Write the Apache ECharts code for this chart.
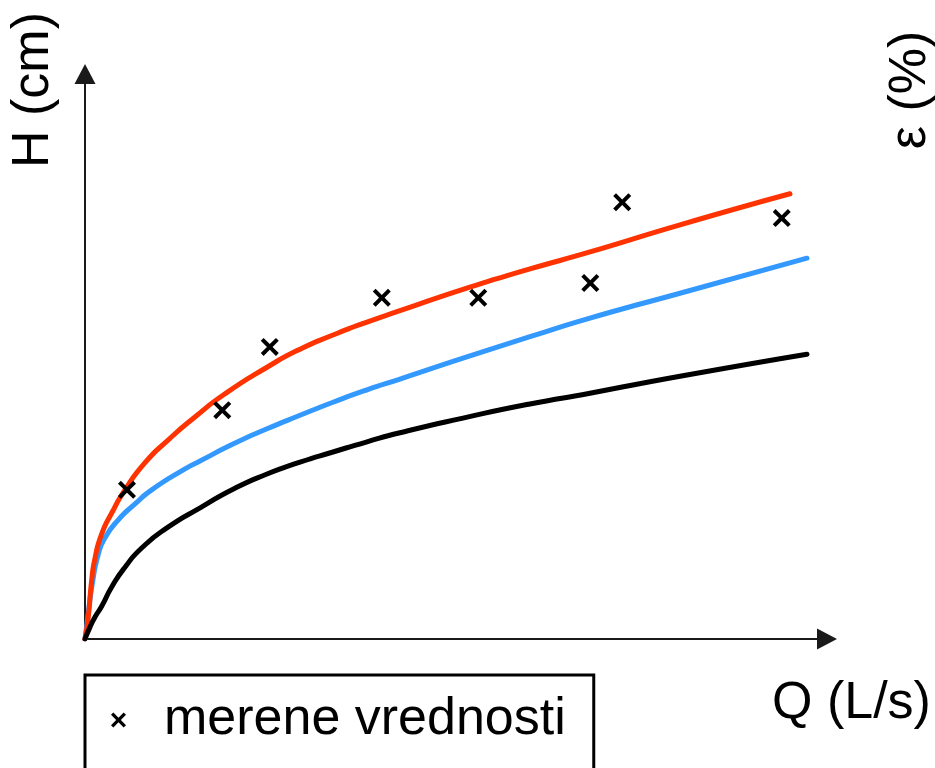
<!DOCTYPE html>
<html>
<head>
<meta charset="utf-8">
<script src="https://cdn.jsdelivr.net/npm/echarts@6/dist/echarts.min.js"></script>
<style>
html,body{margin:0;padding:0;background:#fff;}
#chart{width:935px;height:768px;}
</style>
</head>
<body>
<div id="chart"></div>
<script>
// Q (L/s) values and H (cm) values (arbitrary 0-100 scale, no ticks shown)
const redQ   = [0, 0.44, 0.90, 1.35, 2.25, 3.60, 5.39, 8.09, 11.19, 14.82, 18.87, 24.53, 28.98, 33.42, 38.01, 42.45, 50.94, 59.97, 68.06, 80.19, 95.01];
const redH   = [0, 3.9, 10.4, 14.3, 18.6, 22.3, 26.4, 31.2, 35.2, 39.3, 43.4, 48.1, 51.3, 53.8, 56.1, 58.1, 61.9, 65.5, 68.5, 73.3, 78.8];
const blueQ  = [0, 0.40, 0.94, 1.79, 2.70, 4.49, 6.74, 8.99, 13.48, 15.50, 19.95, 24.53, 28.98, 33.42, 38.01, 42.45, 50.94, 59.97, 68.06, 80.19, 97.30];
const blueH  = [0, 4.1, 9.4, 15.0, 17.9, 21.1, 23.9, 26.4, 30.1, 31.5, 34.5, 37.2, 39.6, 41.9, 44.1, 46.0, 49.7, 53.5, 56.8, 61.2, 67.4];
const blackQ = [0, 0.67, 1.35, 2.25, 3.60, 5.39, 7.64, 11.19, 15.63, 20.08, 24.53, 28.98, 33.42, 38.01, 42.45, 50.94, 59.97, 68.06, 80.19, 97.30];
const blackH = [0, 2.1, 3.9, 5.8, 9.2, 12.7, 16.1, 19.8, 23.3, 26.6, 29.2, 31.3, 33.1, 34.9, 36.5, 39.1, 41.6, 43.5, 46.5, 50.4];
const measQ  = [5.66, 18.5, 24.9, 40.0, 53.0, 68.1, 72.4, 93.9];
const measH  = [26.4, 40.5, 51.7, 60.4, 60.4, 63.0, 77.3, 74.5];

const xName = 'Q (L/s)';
const yName = 'H (cm)';
const y2Name = 'ε (%)';
const legendName = 'merene vrednosti';

const zip = (a, b) => a.map((v, i) => [v, b[i]]);
const crossPath = 'path://M0,2.5L2.5,0L8,5.5L13.5,0L16,2.5L10.5,8L16,13.5L13.5,16L8,10.5L2.5,16L0,13.5L5.5,8Z';
const FONT = '"Liberation Sans", Arial, sans-serif';

const chart = echarts.init(document.getElementById('chart'), null, {renderer: 'canvas'});
const axisCommon = {
  type: 'value', min: 0, max: 100,
  axisLine: {show: true, symbol: ['none', 'triangle'], symbolSize: [21, 20], lineStyle: {color: '#1a1a1a', width: 2}},
  axisTick: {show: false}, axisLabel: {show: false}, splitLine: {show: false}
};
const lineSeries = (name, q, h, color, z) => ({
  type: 'line', name: name, data: zip(q, h), smooth: 0.6, showSymbol: false,
  lineStyle: {color: color, width: 5, join: 'round', cap: 'round'}, z: z
});
chart.setOption({
  animation: false,
  backgroundColor: '#fff',
  grid: {left: 85, top: 74, right: 108, bottom: 129, containLabel: false},
  xAxis: Object.assign({}, axisCommon),
  yAxis: Object.assign({}, axisCommon),
  legend: {
    data: [{name: legendName, icon: crossPath, itemStyle: {color: '#000', opacity: 1}}],
    left: 85, top: 675,
    padding: [15, 28, 40, 26],
    itemWidth: 15, itemHeight: 15,
    borderColor: '#000', borderWidth: 3,
    selectedMode: false,
    textStyle: {fontSize: 52, fontFamily: FONT, color: '#000', lineHeight: 60, padding: [0, 0, 0, 33]}
  },
  series: [
    lineSeries('blue', blueQ, blueH, '#3399ff', 2),
    lineSeries('red', redQ, redH, '#ff3300', 3),
    lineSeries('black', blackQ, blackH, '#000000', 4),
    {type: 'scatter', name: legendName, data: zip(measQ, measH), symbol: crossPath, symbolSize: 18,
     itemStyle: {color: '#000', opacity: 1}, z: 5}
  ],
  graphic: [
    {type: 'text', x: 34, y: 90, rotation: Math.PI / 2,
     style: {text: yName, font: '52px ' + FONT, fill: '#000', align: 'center', verticalAlign: 'middle'}},
    {type: 'text', x: 911, y: 90, rotation: Math.PI / 2,
     style: {text: y2Name, font: '52px ' + FONT, fill: '#000', align: 'center', verticalAlign: 'middle'}},
    {type: 'text', x: 772, y: 704,
     style: {text: xName, font: '52px ' + FONT, fill: '#000', align: 'left', verticalAlign: 'middle'}}
  ]
});
</script>
</body>
</html>
